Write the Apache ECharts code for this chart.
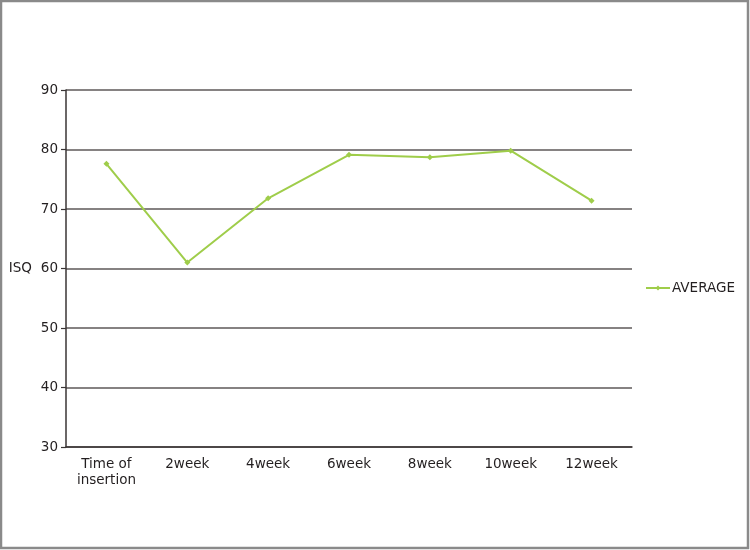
<!DOCTYPE html>
<html>
<head>
<meta charset="utf-8">
<script src="https://cdn.jsdelivr.net/npm/echarts@6/dist/echarts.min.js"></script>
<style>
html,body{margin:0;padding:0;background:#fff;}
#c{width:750px;height:550px;}
</style>
</head>
<body>
<div id="c"></div>
<script>
var categories = ['Time of\ninsertion', '2week', '4week', '6week', '8week', '10week', '12week'];
var averageValues = [77.6, 61.0, 71.8, 79.1, 78.7, 79.8, 71.4];
var yTicks = { min: 30, max: 90, interval: 10 };

var chart = echarts.init(document.getElementById('c'));
var font = '"DejaVu Sans", sans-serif';
chart.setOption({
  animation: false,
  backgroundColor: '#fff',
  textStyle: { fontFamily: font },
  graphic: [{
    type: 'rect',
    shape: { x: 1, y: 1, width: 747, height: 547 },
    style: { fill: 'none', stroke: '#8a8a8a', lineWidth: 2.5 },
    silent: true
  }],
  grid: { left: 66, top: 90, right: 118, bottom: 103, containLabel: false },
  legend: {
    data: ['AVERAGE'],
    orient: 'vertical',
    left: 640,
    top: 276,
    itemWidth: 24,
    itemHeight: 6,
    itemGap: 4,
    textStyle: { color: '#231f20', fontSize: 13.5, fontFamily: font, padding: [0, 0, 0, -3] }
  },
  xAxis: {
    type: 'category',
    data: categories,
    boundaryGap: true,
    axisLine: { lineStyle: { color: '#3a3535', width: 1.5 } },
    axisTick: { show: false },
    axisLabel: { color: '#231f20', fontSize: 13.5, lineHeight: 16, margin: 9, interval: 0 }
  },
  yAxis: {
    type: 'value',
    min: yTicks.min,
    max: yTicks.max,
    interval: yTicks.interval,
    name: 'ISQ',
    nameLocation: 'middle',
    nameRotate: 0,
    nameGap: 34,
    nameTextStyle: { color: '#231f20', fontSize: 13.5 },
    axisLine: { show: true, lineStyle: { color: '#3a3535', width: 1.5 } },
    axisTick: { show: true, length: 5, lineStyle: { color: '#3a3535', width: 1.2 } },
    axisLabel: { color: '#231f20', fontSize: 13.5, margin: 8 },
    splitLine: { lineStyle: { color: '#5e5959', width: 1.6 } }
  },
  series: [{
    name: 'AVERAGE',
    type: 'line',
    data: averageValues,
    symbol: 'diamond',
    symbolSize: 6,
    lineStyle: { color: '#9fcd4a', width: 2 },
    itemStyle: { color: '#9fcd4a' }
  }]
});
</script>
</body>
</html>
